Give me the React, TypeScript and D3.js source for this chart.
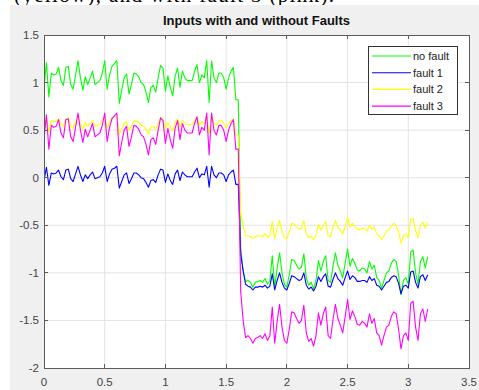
import * as React from "react"
import * as d3 from "d3"

// sample spacing of the recorded signals (s)
const dt = 0.02

const noFault = [
  0.95, 1.21, 0.85, 1.10, 1.08, 1.09, 1.16, 1.02, 0.97, 1.16,
  1.17, 0.98, 0.93, 1.08, 1.23, 1.05, 0.92, 1.06, 0.98, 1.05,
  1.12, 0.98, 1.00, 1.02, 1.10, 1.23, 0.93, 1.08, 1.17, 1.20,
  1.23, 0.78, 0.92, 1.05, 1.09, 0.88, 0.98, 1.10, 1.09, 1.06,
  1.00, 0.98, 0.90, 0.79, 0.95, 0.97, 0.90, 1.05, 1.18, 1.15,
  0.91, 1.07, 0.95, 0.86, 1.07, 1.15, 0.95, 1.12, 1.05, 1.02,
  1.02, 1.02, 1.12, 1.19, 1.00, 1.08, 1.05, 1.23, 0.79, 1.23,
  1.05, 1.00, 1.10, 1.10, 1.05, 0.93, 1.05, 1.12, 1.16, 0.82,
  0.82,
  -0.75, -0.98, -1.09, -1.08, -1.10, -1.15, -1.10, -1.09, -1.08,
  -1.10, -1.06, -1.12, -1.08, -0.82, -1.15, -0.95, -0.79, -1.00, -1.12,
  -1.15, -1.02, -0.86, -0.87, -0.92, -0.96, -0.94, -0.80, -1.05, -1.13,
  -1.10, -1.17, -1.08, -0.87, -0.98, -0.88, -0.82, -1.08, -1.10, -0.93,
  -0.79, -0.92, -0.98, -1.05, -0.90, -0.75, -0.93, -0.85, -0.90, -0.97,
  -0.98, -0.95, -0.96, -1.00, -0.88, -0.96, -0.92, -1.05, -1.08, -1.16,
  -1.08, -1.00, -0.98, -0.90, -0.86, -0.88, -1.02, -1.23, -1.08, -1.05,
  -1.12, -0.78, -0.76, -1.00, -1.12, -0.88, -0.83, -0.95, -0.83,
]

const fault1 = [
  -0.03, 0.11, -0.08, 0.05, 0.04, 0.05, 0.08, 0.01, -0.02, 0.08,
  0.09, -0.01, -0.04, 0.04, 0.12, 0.03, -0.04, 0.03, -0.01, 0.03,
  0.06, -0.01, 0.00, 0.01, 0.05, 0.12, -0.04, 0.04, 0.09, 0.10,
  0.12, -0.11, -0.04, 0.03, 0.05, -0.06, -0.01, 0.05, 0.05, 0.03,
  0.00, -0.01, -0.05, -0.10, -0.03, -0.02, -0.05, 0.03, 0.09, 0.08,
  -0.05, 0.04, -0.03, -0.07, 0.04, 0.08, -0.03, 0.06, 0.03, 0.01,
  0.01, 0.01, 0.06, 0.10, 0.00, 0.04, 0.03, 0.12, -0.10, 0.12,
  0.03, 0.00, 0.05, 0.05, 0.03, -0.04, 0.03, 0.06, 0.08, -0.07,
  -0.07,
  -0.80, -0.98, -1.12, -1.14, -1.15, -1.18, -1.15, -1.15, -1.14,
  -1.15, -1.13, -1.16, -1.14, -1.01, -1.18, -1.08, -1.00, -1.10, -1.16,
  -1.18, -1.11, -1.03, -1.04, -1.06, -1.08, -1.07, -1.00, -1.13, -1.17,
  -1.15, -1.19, -1.14, -1.04, -1.09, -1.04, -1.01, -1.14, -1.15, -1.07,
  -1.00, -1.06, -1.09, -1.13, -1.05, -0.98, -1.07, -1.03, -1.05, -1.09,
  -1.09, -1.08, -1.08, -1.10, -1.04, -1.08, -1.06, -1.13, -1.14, -1.18,
  -1.14, -1.10, -1.09, -1.05, -1.03, -1.04, -1.11, -1.22, -1.14, -1.13,
  -1.16, -0.99, -0.98, -1.10, -1.16, -1.04, -1.02, -1.08, -1.02,
]

const fault2 = [
  0.52, 0.64, 0.48, 0.60, 0.59, 0.59, 0.62, 0.56, 0.54, 0.62,
  0.63, 0.54, 0.52, 0.59, 0.65, 0.57, 0.51, 0.58, 0.54, 0.57,
  0.60, 0.54, 0.55, 0.56, 0.60, 0.65, 0.52, 0.59, 0.63, 0.64,
  0.65, 0.45, 0.51, 0.57, 0.59, 0.50, 0.54, 0.60, 0.59, 0.58,
  0.55, 0.54, 0.51, 0.46, 0.53, 0.54, 0.51, 0.57, 0.63, 0.62,
  0.51, 0.58, 0.53, 0.49, 0.58, 0.62, 0.53, 0.60, 0.57, 0.56,
  0.56, 0.56, 0.60, 0.64, 0.55, 0.59, 0.57, 0.65, 0.46, 0.65,
  0.57, 0.55, 0.60, 0.60, 0.57, 0.52, 0.57, 0.60, 0.62, 0.45,
  0.44,
  -0.38, -0.50, -0.61, -0.61, -0.62, -0.64, -0.62, -0.61, -0.61,
  -0.62, -0.59, -0.63, -0.61, -0.46, -0.64, -0.53, -0.45, -0.56, -0.63,
  -0.64, -0.57, -0.48, -0.49, -0.52, -0.54, -0.53, -0.45, -0.59, -0.63,
  -0.62, -0.65, -0.61, -0.49, -0.55, -0.50, -0.46, -0.61, -0.62, -0.52,
  -0.45, -0.52, -0.55, -0.59, -0.51, -0.42, -0.52, -0.48, -0.51, -0.54,
  -0.55, -0.53, -0.54, -0.56, -0.50, -0.54, -0.52, -0.59, -0.61, -0.65,
  -0.61, -0.56, -0.55, -0.51, -0.48, -0.50, -0.57, -0.69, -0.61, -0.59,
  -0.63, -0.44, -0.43, -0.56, -0.63, -0.50, -0.47, -0.53, -0.47,
]

const fault3 = [
  0.40, 0.66, 0.30, 0.55, 0.53, 0.54, 0.61, 0.47, 0.42, 0.61,
  0.62, 0.43, 0.38, 0.53, 0.68, 0.50, 0.37, 0.51, 0.43, 0.50,
  0.57, 0.43, 0.45, 0.47, 0.55, 0.68, 0.38, 0.53, 0.62, 0.65,
  0.68, 0.23, 0.37, 0.50, 0.54, 0.33, 0.43, 0.55, 0.54, 0.51,
  0.45, 0.43, 0.35, 0.24, 0.40, 0.42, 0.35, 0.50, 0.63, 0.60,
  0.36, 0.52, 0.40, 0.31, 0.52, 0.60, 0.40, 0.57, 0.50, 0.47,
  0.47, 0.47, 0.57, 0.64, 0.45, 0.53, 0.50, 0.68, 0.24, 0.68,
  0.50, 0.45, 0.55, 0.55, 0.50, 0.38, 0.50, 0.57, 0.61, 0.30,
  0.30,
  -1.20, -1.50, -1.68, -1.66, -1.69, -1.74, -1.69, -1.68, -1.66,
  -1.69, -1.64, -1.71, -1.66, -1.36, -1.74, -1.51, -1.33, -1.57, -1.71,
  -1.74, -1.59, -1.41, -1.42, -1.48, -1.53, -1.50, -1.34, -1.63, -1.72,
  -1.69, -1.77, -1.66, -1.42, -1.55, -1.43, -1.36, -1.66, -1.69, -1.49,
  -1.33, -1.48, -1.55, -1.63, -1.46, -1.28, -1.49, -1.40, -1.46, -1.54,
  -1.55, -1.51, -1.53, -1.57, -1.43, -1.53, -1.48, -1.63, -1.66, -1.76,
  -1.66, -1.57, -1.55, -1.46, -1.41, -1.43, -1.59, -1.80, -1.66, -1.63,
  -1.71, -1.32, -1.30, -1.57, -1.71, -1.43, -1.38, -1.51, -1.38,
]

const seriesNames = ["no fault", "fault 1", "fault 2", "fault 3"]
const seriesValues = [noFault, fault1, fault2, fault3]
const seriesColors = ["#00ff00", "#0000ff", "#ffff00", "#ff00ff"]

const xTicks = [0, 0.5, 1, 1.5, 2, 2.5, 3, 3.5]
const xTickLabels = ["0", "0.5", "1", "1.5", "2", "2.5", "3", "3.5"]
const yTicks = [-2, -1.5, -1, -0.5, 0, 0.5, 1, 1.5]
const yTickLabels = ["-2", "-1.5", "-1", "-0.5", "0", "0.5", "1", "1.5"]

const W = 479
const H = 390
const plot = { left: 44, right: 469, top: 35, bottom: 368 }
const axisColor = "#5c5c5c"
const textColor = "#444"
const font = "Arial, 'Liberation Sans', Helvetica, sans-serif"

export default function App() {
  const x = d3.scaleLinear().domain([0, 3.5]).range([plot.left, plot.right])
  const y = d3.scaleLinear().domain([-2, 1.5]).range([plot.bottom, plot.top])

  const line = d3
    .line<number>()
    .x((_, i) => x(i * dt))
    .y((d) => y(d))

  const tickLen = 4
  const legend = { x: 368, y: 46, w: 89, h: 68 }

  return (
    <svg
      width={W}
      height={H}
      viewBox={`0 0 ${W} ${H}`}
      style={{ position: "absolute", left: 0, top: 0, background: "#fff" }}
    >
      {/* caption line of the surrounding document, cut by the crop */}
      <text
        x={14}
        y={2}
        fontFamily="'Liberation Serif', 'Times New Roman', serif"
        fontSize={21}
        fill="#000"
        textLength={320}
      >
        (yellow), and with fault 3 (pink).
      </text>

      {/* figure background */}
      <rect x={10} y={5} width={W - 10} height={H - 5} fill="#f0f0f0" />

      {/* axes background */}
      <rect
        x={plot.left}
        y={plot.top}
        width={plot.right - plot.left}
        height={plot.bottom - plot.top}
        fill="#fff"
      />

      {/* grid */}
      <g stroke="#e3e3e3" strokeWidth={1}>
        {xTicks.slice(1, -1).map((t) => (
          <line key={`gx${t}`} x1={x(t)} x2={x(t)} y1={plot.top} y2={plot.bottom} />
        ))}
        {yTicks.slice(1, -1).map((t) => (
          <line key={`gy${t}`} x1={plot.left} x2={plot.right} y1={y(t)} y2={y(t)} />
        ))}
      </g>

      {/* data */}
      <defs>
        <clipPath id="plotClip">
          <rect
            x={plot.left}
            y={plot.top}
            width={plot.right - plot.left}
            height={plot.bottom - plot.top}
          />
        </clipPath>
      </defs>
      <g clipPath="url(#plotClip)" fill="none" strokeWidth={1.1} strokeLinejoin="round">
        {seriesValues.map((vals, k) => (
          <path key={seriesNames[k]} d={line(vals) ?? ""} stroke={seriesColors[k]} />
        ))}
      </g>

      {/* box + ticks */}
      <g stroke={axisColor} strokeWidth={1} shapeRendering="crispEdges">
        <rect
          x={plot.left}
          y={plot.top}
          width={plot.right - plot.left}
          height={plot.bottom - plot.top}
          fill="none"
        />
        {xTicks.map((t) => (
          <g key={`tx${t}`}>
            <line x1={x(t)} x2={x(t)} y1={plot.bottom} y2={plot.bottom - tickLen} />
            <line x1={x(t)} x2={x(t)} y1={plot.top} y2={plot.top + tickLen} />
          </g>
        ))}
        {yTicks.map((t) => (
          <g key={`ty${t}`}>
            <line x1={plot.left} x2={plot.left + tickLen} y1={y(t)} y2={y(t)} />
            <line x1={plot.right} x2={plot.right - tickLen} y1={y(t)} y2={y(t)} />
          </g>
        ))}
      </g>

      {/* tick labels */}
      <g fontFamily={font} fontSize={11.5} fill={textColor}>
        {xTicks.map((t, i) => (
          <text key={`lx${t}`} x={x(t)} y={plot.bottom + 18} textAnchor="middle">
            {xTickLabels[i]}
          </text>
        ))}
        {yTicks.map((t, i) => (
          <text
            key={`ly${t}`}
            x={plot.left - 5}
            y={y(t)}
            textAnchor="end"
            dominantBaseline="central"
          >
            {yTickLabels[i]}
          </text>
        ))}
      </g>

      {/* title */}
      <text
        x={(plot.left + plot.right) / 2}
        y={25}
        textAnchor="middle"
        fontFamily={font}
        fontSize={13}
        fontWeight="bold"
        fill="#111"
      >
        Inputs with and without Faults
      </text>

      {/* legend */}
      <g>
        <rect
          x={legend.x}
          y={legend.y}
          width={legend.w}
          height={legend.h}
          fill="#fff"
          stroke="#333"
          strokeWidth={1}
          shapeRendering="crispEdges"
        />
        {seriesNames.map((name, k) => {
          const ly = legend.y + 10 + k * 16.7
          return (
            <g key={name}>
              <line
                x1={legend.x + 4}
                x2={legend.x + 43}
                y1={ly}
                y2={ly}
                stroke={seriesColors[k]}
                strokeWidth={1.1}
              />
              <text
                x={legend.x + 45}
                y={ly}
                dominantBaseline="central"
                fontFamily={font}
                fontSize={11}
                fill="#222"
              >
                {name}
              </text>
            </g>
          )
        })}
      </g>
    </svg>
  )
}
